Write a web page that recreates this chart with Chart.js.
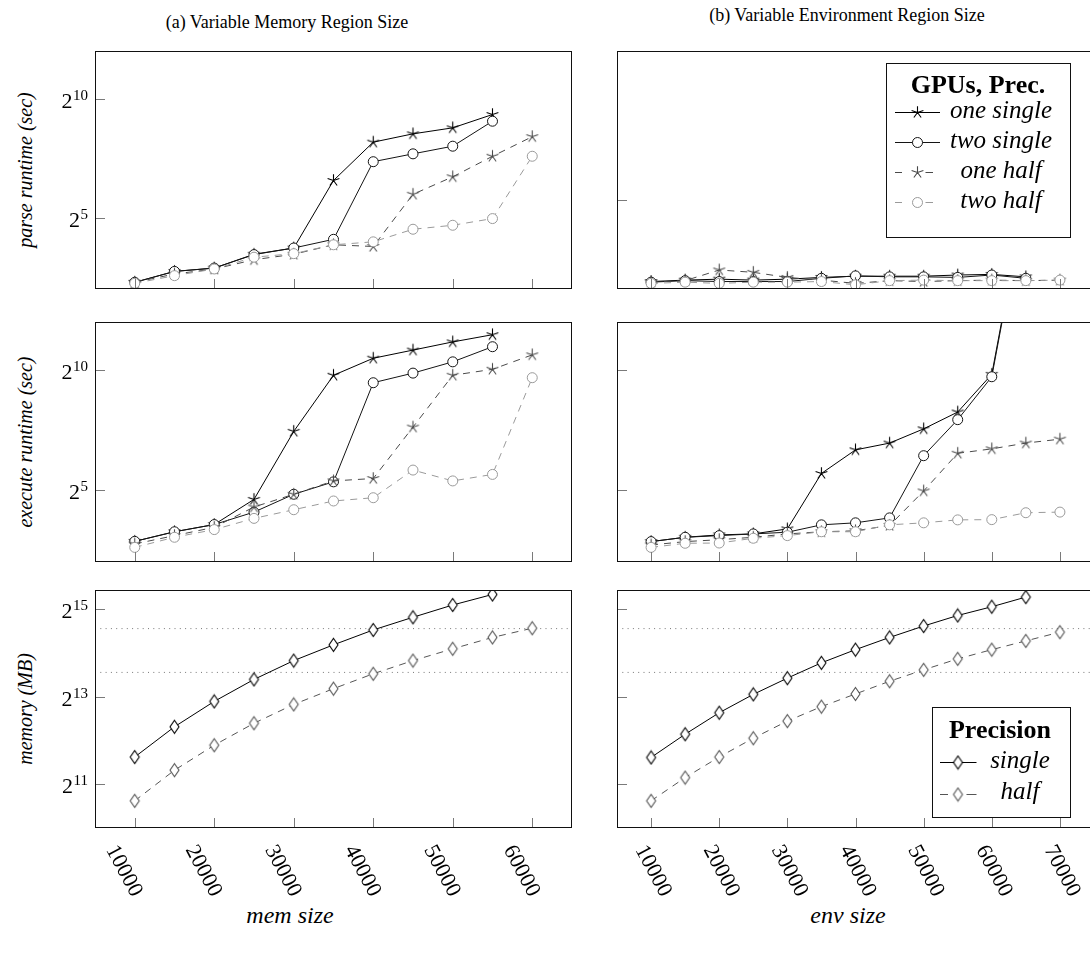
<!DOCTYPE html>
<html><head><meta charset="utf-8">
<script src="https://cdn.jsdelivr.net/npm/chart.js@4.4.1/dist/chart.umd.min.js"></script>
<style>
html,body{margin:0;padding:0;}
body{width:1090px;height:953px;overflow:hidden;background:#fff;position:relative;font-family:"Liberation Serif","Times New Roman",serif;color:#000;}
.t{position:absolute;white-space:nowrap;transform:translate(-50%,-50%);line-height:1;}
.yl{position:absolute;white-space:nowrap;transform:translate(-50%,-50%) rotate(-90deg);font-style:italic;font-size:20px;line-height:1;}
</style></head><body>
<div class="t" style="left:287px;top:22px;font-size:18px;">(a) Variable Memory Region Size</div>
<div class="t" style="left:847px;top:15px;font-size:18px;">(b) Variable Environment Region Size</div>
<div class="yl" style="left:25px;top:170px;">parse runtime (sec)</div>
<div class="yl" style="left:25px;top:442px;">execute runtime (sec)</div>
<div class="yl" style="left:25px;top:709px;">memory (MB)</div>
<div class="t" style="left:290px;top:915px;font-size:24px;font-style:italic;">mem size</div>
<div class="t" style="left:848px;top:915px;font-size:24px;font-style:italic;">env size</div>
<script>
// ---------------- data ----------------
const memSizes = [10000,15000,20000,25000,30000,35000,40000,45000,50000,55000,60000];
const envSizes = [10000,15000,20000,25000,30000,35000,40000,45000,50000,55000,60000,65000,70000];
const memTicks = [10000,20000,30000,40000,50000,60000];
const envTicks = [10000,20000,30000,40000,50000,60000,70000];
const memTickLabels = ['10000','20000','30000','40000','50000','60000'];
const envTickLabels = ['10000','20000','30000','40000','50000','60000','70000'];
const runtimeTicks = [32, 1024];
const runtimeTickExps = ['5','10'];
const memoryTicks = [2048, 8192, 32768];
const memoryTickExps = ['11','13','15'];
const seriesLabels = ['one single','two single','one half','two half'];
const precisionLabels = ['single','half'];

// parse runtime (sec)
const memParseOneSingle = [4.86,6.68,7.36,11.0,13.2,94.3,288,367,437,644];
const memParseTwoSingle = [4.86,6.68,7.36,10.9,13.2,17.0,163,205,256,530];
const memParseOneHalf   = [4.86,6.19,7.16,9.38,11.0,14.5,13.8,63.1,105,191,338];
const memParseTwoHalf   = [4.72,5.90,7.16,10.1,11.2,14.5,15.8,22.8,25.6,31.1,191];
const envParseOneSingle = [4.76,4.92,5.03,4.92,5.03,5.24,5.39,5.39,5.39,5.54,5.62,5.31];
const envParseTwoSingle = [4.69,4.86,4.76,4.76,4.76,5.13,5.43,5.31,5.31,5.24,5.54,5.13];
const envParseOneHalf   = [4.69,4.86,6.23,5.90,5.24,4.92,4.56,4.86,4.76,4.86,4.92,4.86,4.92];
const envParseTwoHalf   = [4.56,4.69,4.56,4.69,4.69,4.76,4.41,4.86,4.92,4.86,4.86,4.86,4.92];

// execute runtime (sec)
const memExecOneSingle = [7.26,9.58,11.8,24.4,174,879,1438,1820,2304,2837];
const memExecTwoSingle = [7.26,9.58,11.8,16.9,28.3,40.5,709,936,1296,2006];
const memExecOneHalf   = [6.73,8.57,10.9,19.6,28.3,41.6,44.6,197,879,1045,1585];
const memExecTwoHalf   = [6.10,8.17,10.2,14.1,18.1,23.3,25.6,56.9,41.6,50.2,820];
const envExecOneSingle = [7.21,8.17,8.75,9.00,10.4,51.6,102,124,187,304,904,173000];
const envExecTwoSingle = [7.21,8.17,8.57,9.00,9.45,11.7,12.4,14.3,86.2,244,843,161000];
const envExecOneHalf   = [6.54,7.21,7.62,8.17,9.00,9.58,9.85,11.5,31.1,92.4,105,124,139];
const envExecTwoHalf   = [6.10,6.87,6.92,7.94,8.57,9.58,9.58,11.7,12.4,13.5,13.6,16.6,16.9];

// memory (MB)
const memMemSingle = [3148,5079,7590,10740,14467,18563,23494,28721,34865,41189];
const memMemHalf   = [1574,2556,3795,5370,7233,9282,11747,14467,17433,20873,24150];
const envMemSingle = [3126,4514,6341,8479,10961,13967,17203,20873,25002,29540,33915,39518];
const envMemHalf   = [1574,2273,3148,4239,5558,6984,8536,10437,12501,14869,17203,19759,22692];
const gpuMemLimits = [12000, 24000];

// ---------------- markers ----------------
function starImg(color){
  const c=document.createElement('canvas'); c.width=c.height=15;
  const g=c.getContext('2d'); g.strokeStyle=color; g.lineWidth=1.1; g.beginPath();
  for(let k=0;k<5;k++){const an=-Math.PI/2+k*2*Math.PI/5; g.moveTo(7.5,7.5); g.lineTo(7.5+6.2*Math.cos(an),7.5+6.2*Math.sin(an));}
  g.stroke(); return c;
}
function diamondImg(color){
  const c=document.createElement('canvas'); c.width=13; c.height=16;
  const g=c.getContext('2d'); g.strokeStyle=color; g.fillStyle='#fff'; g.lineWidth=1.1;
  g.beginPath(); g.moveTo(6.5,1.5); g.lineTo(11,8); g.lineTo(6.5,14.5); g.lineTo(2,8); g.closePath(); g.fill(); g.stroke(); return c;
}
const C_ONE_SINGLE='#000', C_TWO_SINGLE='#141414', C_ONE_HALF='#4a4a4a', C_TWO_HALF='#9a9a9a';
const DASH=[7,6];
const styles = [
  {color:C_ONE_SINGLE, point:starImg(C_ONE_SINGLE), dash:[], order:3},
  {color:C_TWO_SINGLE, point:'circle', dash:[], order:2},
  {color:C_ONE_HALF, point:starImg(C_ONE_HALF), dash:DASH, order:1},
  {color:C_TWO_HALF, point:'circle', dash:DASH, order:0}
];
const precStyles = [
  {color:'#000', point:diamondImg('#000'), dash:[], order:1},
  {color:'#555', point:diamondImg('#555'), dash:DASH, order:0}
];

function series(label, xs, ys, st, clip){
  const d = {
    label, data: ys.map((v,i)=>({x:xs[i], y:v})),
    borderColor: st.color, borderWidth: 1, borderDash: st.dash,
    pointStyle: st.point, pointRadius: 5, pointHoverRadius: 5,
    pointBackgroundColor: '#fff', pointBorderColor: st.color, pointBorderWidth: 1,
    fill: false, tension: 0, order: st.order
  };
  if (clip) d.clip = clip;
  return d;
}
function limitLine(v, xmin, xmax){
  return {label:'', data:[{x:xmin,y:v},{x:xmax,y:v}], borderColor:'#777', borderWidth:1,
    borderDash:[1,4.3], pointRadius:0, fill:false, order:10};
}

function drawMarker(ctx, ps, x, y, color){
  if (ps === 'circle'){ ctx.beginPath(); ctx.arc(x,y,5,0,Math.PI*2); ctx.fillStyle='#fff'; ctx.fill(); ctx.strokeStyle=color; ctx.lineWidth=1; ctx.stroke(); }
  else ctx.drawImage(ps, x-ps.width/2, y-ps.height/2);
}

// ---------------- decoration plugin ----------------
const panelPlugin = {
  id: 'panel',
  afterDatasetsDraw(chart){
    const o = chart.config._cfgDeco;
    const {ctx, chartArea:a, scales:{x,y}} = chart;
    ctx.save();
    ctx.setLineDash([]);
    // ticks (inside)
    ctx.strokeStyle='#7a7a7a'; ctx.lineWidth=1; ctx.beginPath();
    o.xTicks.forEach(v=>{const px=Math.round(x.getPixelForValue(v))+0.5; ctx.moveTo(px,a.bottom); ctx.lineTo(px,a.bottom-10);});
    o.yTicks.forEach(v=>{const py=Math.round(y.getPixelForValue(v))+0.5; ctx.moveTo(a.left,py); ctx.lineTo(a.left+10,py);});
    ctx.stroke();
    // frame
    ctx.strokeStyle='#111'; ctx.lineWidth=1;
    ctx.strokeRect(Math.round(a.left)+0.5, Math.round(a.top)+0.5, Math.round(a.right-a.left)-1, Math.round(a.bottom-a.top)-1);
    ctx.fillStyle='#000';
    // y tick labels 2^k
    if (o.yLabels){
      o.yTicks.forEach((v,i)=>{
        const py=y.getPixelForValue(v), ex=o.yExps[i], right=a.left-7;
        ctx.textAlign='left'; ctx.textBaseline='alphabetic';
        ctx.font='15px "Liberation Serif"'; const ew=ctx.measureText(ex).width;
        ctx.fillText(ex, right-ew, py+1);
        ctx.font='22px "Liberation Serif"'; const bw=ctx.measureText('2').width;
        ctx.fillText('2', right-ew-bw-0.5, py+9);
      });
    }
    // x tick labels (rotated)
    if (o.xLabels){
      ctx.font='22px "Liberation Serif"'; ctx.textAlign='center'; ctx.textBaseline='middle';
      o.xTicks.forEach((v,i)=>{
        const px=x.getPixelForValue(v);
        ctx.save(); ctx.translate(px+o.xlDx, a.bottom+o.xlDy); ctx.rotate(62*Math.PI/180);
        ctx.fillText(o.xTickLabels[i],0,0); ctx.restore();
      });
    }
    // legend
    if (o.legend){
      const L=o.legend, X=v=>v-o.offX, Y=v=>v-o.offY;
      const bx=Math.round(X(L.box[0]))+0.5, by=Math.round(Y(L.box[1]))+0.5;
      const bw=Math.round(L.box[2]-L.box[0]), bh=Math.round(L.box[3]-L.box[1]);
      ctx.fillStyle='#fff'; ctx.fillRect(bx,by,bw,bh);
      ctx.strokeStyle='#111'; ctx.lineWidth=1; ctx.strokeRect(bx,by,bw,bh);
      ctx.fillStyle='#000'; ctx.font='bold 26px "Liberation Serif"'; ctx.textAlign='center'; ctx.textBaseline='alphabetic';
      ctx.fillText(L.title, X(L.titleX), Y(L.titleY));
      L.entries.forEach(e=>{
        const ds=chart.data.datasets[e.ds], ly=Math.round(Y(e.y))+0.5, xm=X(L.sxm);
        ctx.strokeStyle=ds.borderColor; ctx.lineWidth=1; ctx.beginPath();
        if (ds.borderDash && ds.borderDash.length){
          ctx.moveTo(xm+L.d1[0],ly); ctx.lineTo(xm+L.d1[1],ly); ctx.moveTo(xm+L.d2[0],ly); ctx.lineTo(xm+L.d2[1],ly);
        } else { ctx.moveTo(xm+L.solid[0],ly); ctx.lineTo(xm+L.solid[1],ly); }
        ctx.stroke();
        drawMarker(ctx, ds.pointStyle, xm, ly, ds.borderColor);
        ctx.fillStyle='#000'; ctx.font='italic 25px "Liberation Serif"'; ctx.textAlign='center';
        ctx.fillText(ds.label, X(L.textX), Y(e.base));
      });
    }
    ctx.restore();
  }
};

function makePanel(cfg){
  const a=cfg.area, p=cfg.pad;
  const W=(a.r-a.l)+p.l+p.r, H=(a.b-a.t)+p.t+p.b;
  const cv=document.createElement('canvas');
  cv.width=W; cv.height=H;
  cv.style.cssText=`position:absolute;left:${a.l-p.l}px;top:${a.t-p.t}px;width:${W}px;height:${H}px;`;
  document.body.appendChild(cv);
  const chart = new Chart(cv, {
    type:'line',
    data:{datasets:cfg.datasets},
    options:{
      responsive:false, animation:false, devicePixelRatio:1, events:[],
      layout:{padding:{left:p.l,right:p.r,top:p.t,bottom:p.b}},
      plugins:{legend:{display:false}, tooltip:{enabled:false}},
      scales:{
        x:{type:'linear', display:false, min:cfg.xMin, max:cfg.xMax, bounds:'data'},
        y:{type:'logarithmic', display:false, min:cfg.yMin, max:cfg.yMax, bounds:'data'}
      }
    },
    plugins:[panelPlugin]
  });
  return chart;
}
// deco is attached to config before first draw via a wrapper
const _origMake = makePanel;
function panel(cfg){
  const deco = Object.assign({}, cfg.deco, {offX: cfg.area.l-cfg.pad.l, offY: cfg.area.t-cfg.pad.t});
  const a=cfg.area, p=cfg.pad;
  const W=(a.r-a.l)+p.l+p.r, H=(a.b-a.t)+p.t+p.b;
  const cv=document.createElement('canvas');
  cv.width=W; cv.height=H;
  cv.style.cssText=`position:absolute;left:${a.l-p.l}px;top:${a.t-p.t}px;width:${W}px;height:${H}px;`;
  document.body.appendChild(cv);
  const config = {
    type:'line',
    data:{datasets:cfg.datasets},
    options:{
      responsive:false, animation:false, devicePixelRatio:1, events:[],
      layout:{padding:{left:p.l,right:p.r,top:p.t,bottom:p.b}},
      plugins:{legend:{display:false}, tooltip:{enabled:false}},
      scales:{
        x:{type:'linear', display:false, min:cfg.xMin, max:cfg.xMax, bounds:'data'},
        y:{type:'logarithmic', display:false, min:cfg.yMin, max:cfg.yMax, bounds:'data'}
      }
    },
    plugins:[{id:'panelWrap', afterDatasetsDraw(chart){ chart.config._cfgDeco = deco; panelPlugin.afterDatasetsDraw(chart); }}]
  };
  return new Chart(cv, config);
}

// ---------------- layout ----------------
const LEFT = {l:95, r:572}, RIGHT = {l:617, r:1094};
const ROW1 = {t:51, b:289}, ROW2 = {t:322, b:562}, ROW3 = {t:590, b:828};
const padL = {l:80, r:10, t:10, b:10}, padR = {l:20, r:10, t:10, b:10};
const padLB = {l:80, r:10, t:10, b:100}, padRB = {l:20, r:10, t:10, b:100};

function fourSeries(xs, arrs, clip){ return arrs.map((ys,i)=>series(seriesLabels[i], xs, ys, styles[i], clip)); }

// (a) parse
panel({area:{...LEFT,...ROW1}, pad:padL, xMin:5000, xMax:65000, yMin:4, yMax:4096,
  datasets: fourSeries(memSizes, [memParseOneSingle,memParseTwoSingle,memParseOneHalf,memParseTwoHalf]),
  deco:{xTicks:memTicks, yTicks:runtimeTicks, yExps:runtimeTickExps, yLabels:true}});
// (b) parse + legend
panel({area:{...RIGHT,...ROW1}, pad:padR, xMin:5000, xMax:75000, yMin:4, yMax:1024,
  datasets: fourSeries(envSizes, [envParseOneSingle,envParseTwoSingle,envParseOneHalf,envParseTwoHalf]),
  deco:{xTicks:envTicks, yTicks:[32], yExps:[], yLabels:false,
    legend:{box:[886,63,1070,237], title:'GPUs, Prec.', titleX:978, titleY:93, sxm:917.5,
      solid:[-22.5,22.5], d1:[-22.5,-15.5], d2:[8,15.5], textX:1001,
      entries:[{ds:0,y:112,base:118},{ds:1,y:142,base:148},{ds:2,y:172,base:178},{ds:3,y:202,base:208}]}}});
// (a) execute
panel({area:{...LEFT,...ROW2}, pad:padL, xMin:5000, xMax:65000, yMin:4, yMax:4096,
  datasets: fourSeries(memSizes, [memExecOneSingle,memExecTwoSingle,memExecOneHalf,memExecTwoHalf]),
  deco:{xTicks:memTicks, yTicks:runtimeTicks, yExps:runtimeTickExps, yLabels:true}});
// (b) execute
panel({area:{...RIGHT,...ROW2}, pad:padR, xMin:5000, xMax:75000, yMin:4, yMax:4096,
  datasets: fourSeries(envSizes, [envExecOneSingle,envExecTwoSingle,envExecOneHalf,envExecTwoHalf], {left:8,right:8,top:0,bottom:8}),
  deco:{xTicks:envTicks, yTicks:runtimeTicks, yExps:runtimeTickExps, yLabels:false}});
// (a) memory
panel({area:{...LEFT,...ROW3}, pad:padLB, xMin:5000, xMax:65000, yMin:1024, yMax:44200,
  datasets: [limitLine(gpuMemLimits[0],5000,65000), limitLine(gpuMemLimits[1],5000,65000),
    series(precisionLabels[0], memSizes, memMemSingle, precStyles[0]),
    series(precisionLabels[1], memSizes, memMemHalf, precStyles[1])],
  deco:{xTicks:memTicks, yTicks:memoryTicks, yExps:memoryTickExps, yLabels:true,
    xLabels:true, xTickLabels:memTickLabels, xlDx:-11, xlDy:43}});
// (b) memory + legend
panel({area:{...RIGHT,...ROW3}, pad:padRB, xMin:5000, xMax:75000, yMin:1024, yMax:44200,
  datasets: [limitLine(gpuMemLimits[0],5000,75000), limitLine(gpuMemLimits[1],5000,75000),
    series(precisionLabels[0], envSizes, envMemSingle, precStyles[0]),
    series(precisionLabels[1], envSizes, envMemHalf, precStyles[1])],
  deco:{xTicks:envTicks, yTicks:memoryTicks, yExps:memoryTickExps, yLabels:false,
    xLabels:true, xTickLabels:envTickLabels, xlDx:2, xlDy:43,
    legend:{box:[932,707,1070,817], title:'Precision', titleX:1000, titleY:738, sxm:958,
      solid:[-18,18.5], d1:[-18,-10], d2:[8.5,18.5], textX:1020,
      entries:[{ds:2,y:762,base:768},{ds:3,y:793.5,base:799}]}}});
</script>
</body></html>
